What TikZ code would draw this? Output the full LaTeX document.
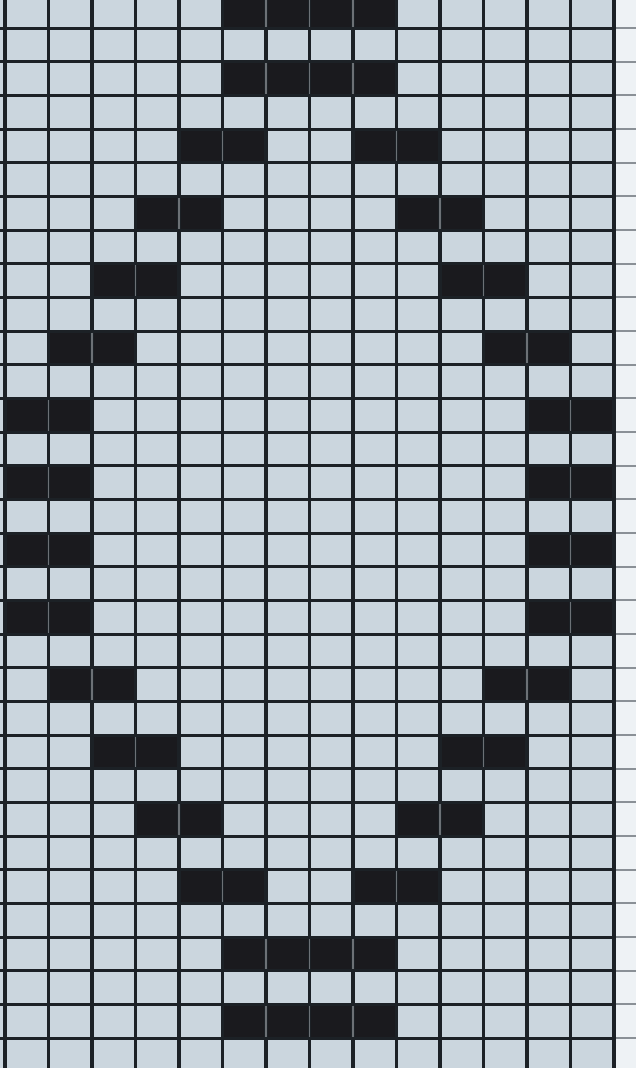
\documentclass[tikz,border=0pt]{standalone}
\definecolor{cellbg}{HTML}{CBD6DE}
\definecolor{gridc}{HTML}{1C2126}
\definecolor{fillc}{HTML}{1A1A1E}
\definecolor{sepc}{HTML}{6C7176}
\definecolor{edgebg}{HTML}{EEF2F5}
\definecolor{edgeline}{HTML}{8A9096}
\newcommand\cx[1]{5+43.5*(#1)}
\newcommand\ry[1]{28+33.667*((#1)-1)}
\newcommand\blackrun[3]{%
  \fill[fillc] ({\cx{#2}},{\ry{#1}}) rectangle ({\cx{#3+1}},{\ry{#1+1}});
  \foreach \k in {#2,...,#3}{\ifnum\k>#2\relax
    \draw[sepline] ({\cx{\k}},{\ry{#1}}) -- ({\cx{\k}},{\ry{#1+1}});\fi}%
}
\begin{document}
\begin{tikzpicture}[x=1pt,y=-1pt,
  vline/.style={draw=gridc,line width=3.4pt},
  hline/.style={draw=gridc,line width=3.0pt},
  hedge/.style={draw=edgeline,line width=2.2pt},
  sepline/.style={draw=sepc,line width=1.6pt}]
\useasboundingbox (0,0) rectangle (636,1068);
\fill[cellbg] (0,0) rectangle (614,1068);
\fill[edgebg] (614,0) rectangle (636,1068);
% black cells
\foreach \r in {0,2,28,30}{\blackrun{\r}{5}{8}}
\foreach \r in {4,26}{\blackrun{\r}{4}{5}\blackrun{\r}{8}{9}}
\foreach \r in {6,24}{\blackrun{\r}{3}{4}\blackrun{\r}{9}{10}}
\foreach \r in {8,22}{\blackrun{\r}{2}{3}\blackrun{\r}{10}{11}}
\foreach \r in {10,20}{\blackrun{\r}{1}{2}\blackrun{\r}{11}{12}}
\foreach \r in {12,14,16,18}{\blackrun{\r}{0}{1}\blackrun{\r}{12}{13}}
% grid
\foreach \i in {0,...,30}{
  \draw[hline] (0,{28+33.667*\i}) -- (614,{28+33.667*\i});
  \draw[hedge] (614,{28+33.667*\i}) -- (636,{28+33.667*\i});
}
\foreach \j in {0,...,14}{
  \draw[vline] ({5+43.5*\j},0) -- ({5+43.5*\j},1068);
}
% separators inside black runs (redrawn over the grid)
\foreach \r in {0,2,28,30}{\foreach \k in {6,7,8}{\draw[sepline] ({\cx{\k}},{\ry{\r}+1.5}) -- ({\cx{\k}},{\ry{\r+1}-1.5});}}
\foreach \r/\a/\b in {4/5/9,26/5/9,6/4/10,24/4/10,8/3/11,22/3/11,10/2/12,20/2/12,12/1/13,14/1/13,16/1/13,18/1/13}{
  \draw[sepline] ({\cx{\a}},{\ry{\r}+1.5}) -- ({\cx{\a}},{\ry{\r+1}-1.5});
  \draw[sepline] ({\cx{\b}},{\ry{\r}+1.5}) -- ({\cx{\b}},{\ry{\r+1}-1.5});
}
\end{tikzpicture}
\end{document}
